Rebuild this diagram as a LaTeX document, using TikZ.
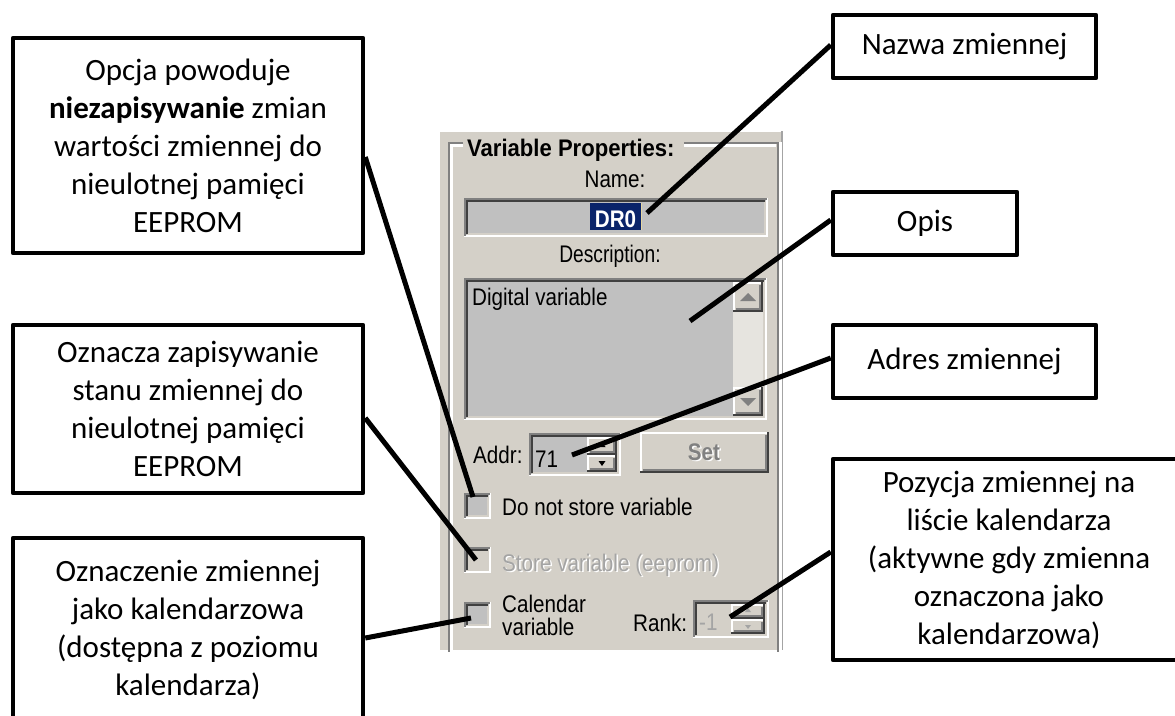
\documentclass[tikz,border=0pt]{standalone}
\usepackage{fontspec}
\usepackage{graphicx}
\setmainfont{Carlito}
\newfontfamily\uifont{Liberation Sans}
\usetikzlibrary{calc}

\definecolor{uiface}{HTML}{D4D0C8}
\definecolor{uifield}{HTML}{C0C0C0}
\definecolor{uishade}{HTML}{808080}
\definecolor{uidark}{HTML}{404040}
\definecolor{uisel}{HTML}{0A246A}
\definecolor{uigray}{HTML}{A4A4A4}
\definecolor{uitrack}{HTML}{E6E4DF}

% sunken 3D frame: x1 y1 x2 y2 fill
\newcommand\sunkenframe[5]{%
  \fill[#5] (#1,#2) rectangle (#3,#4);
  \draw[line width=2pt, white] (#1,#4-1) -- (#3-1,#4-1) -- (#3-1,#2);
  \draw[line width=2pt, uishade] (#1+1,#4-1) -- (#1+1,#2+1) -- (#3-1,#2+1);
  \draw[line width=2pt, uiface] (#1+3,#4-3) -- (#3-3,#4-3) -- (#3-3,#2+3);
  \draw[line width=2pt, uidark] (#1+3,#4-3) -- (#1+3,#2+3) -- (#3-3,#2+3);
}
% raised 3D button: x1 y1 x2 y2
\newcommand\raisedframe[4]{%
  \fill[uiface] (#1,#2) rectangle (#3,#4);
  \draw[line width=2pt, uidark] (#1,#4-1) -- (#3-1,#4-1) -- (#3-1,#2);
  \draw[line width=2pt, white] (#1+1,#4-2) -- (#1+1,#2+1) -- (#3-2,#2+1);
  \draw[line width=2pt, uishade] (#1+3,#4-3) -- (#3-3,#4-3) -- (#3-3,#2+3);
}
% narrow dialog lettering
\newcommand\narrowui[1]{\scalebox{0.86}[1]{#1}}

\tikzset{
  callout/.style={draw=black, line width=4.5pt, line join=round, fill=white,
    inner sep=0pt, align=center, font=\fontsize{31}{38}\selectfont},
  leader/.style={line width=5pt, black},
  uitext/.style={font=\uifont\fontsize{24}{26}\selectfont, inner sep=0pt, text=black},
  uibold/.style={font=\uifont\bfseries\fontsize{24}{26}\selectfont, inner sep=0pt, text=black},
}

\begin{document}
\begin{tikzpicture}[x=1pt,y=-1pt]
\useasboundingbox (0,0) rectangle (1175,715);
\fill[white] (0,0) rectangle (1175,715);

% ---------- dialog panel ----------
\fill[uiface] (440,130) rectangle (783,650);
\draw[line width=1.5pt, white] (440,131) -- (783,131);
\draw[line width=1.5pt, uigray] (782,131) -- (782,650);

% etched group frame
\draw[uishade, line width=2.5pt] (463,143) -- (449,143) -- (449,652);
\draw[white, line width=2.5pt] (463,145.5) -- (451.5,145.5) -- (451.5,652);
\draw[uishade, line width=2.5pt] (684,143) -- (778,143) -- (778,652);
\draw[white, line width=2.5pt] (684,145.5) -- (775.5,145.5);
\draw[white, line width=2.5pt] (780.5,141.8) -- (780.5,652);
\node[uibold, anchor=base west] (title) at (467,156) {\scalebox{0.92}[1]{Variable Properties:}};

% name
\node[uitext, anchor=base] (namelbl) at (615,187) {\narrowui{Name:}};
\sunkenframe{464}{198}{768}{237}{uifield}
\fill[uisel] (590,203) rectangle (641,230);
\node[uibold, anchor=base, text=white] (nameval) at (615.5,227) {\narrowui{DR0}};
\draw[line width=1.5pt, color={rgb,255:red,230;green,215;blue,160}] (641.5,203) -- (641.5,230);

% description
\node[uitext, anchor=base] (desclbl) at (610,262) {\scalebox{0.8}[1]{Description:}};
\sunkenframe{464}{278}{767}{420}{uifield}
\fill[uitrack] (733,282) rectangle (763,416);
\raisedframe{733}{282}{763}{312}
\fill[uishade] (748,293) -- (740,301) -- (756,301) -- cycle;
\raisedframe{733}{387}{763}{416}
\fill[uishade] (748,406) -- (740,398) -- (756,398) -- cycle;
\node[uitext, anchor=base west] (descval) at (472,305) {\narrowui{Digital variable}};

% address
\node[uitext, anchor=base west] (addrlbl) at (473,463) {\narrowui{Addr:}};
\sunkenframe{529}{433}{621}{476}{uifield}
\node[uitext, anchor=base west] (addrval) at (535,467) {\narrowui{71}};
\raisedframe{587}{437}{617}{455}
\fill[black] (602,442) -- (598.5,447) -- (605.5,447) -- cycle;
\raisedframe{587}{455}{617}{472}
\fill[black] (602,466) -- (598.5,461) -- (605.5,461) -- cycle;
\raisedframe{640}{432}{769}{473}
\node[uibold, anchor=base, text=white] (setshadow) at (705.5,461.5) {\narrowui{Set}};
\node[uibold, anchor=base, text=uishade] (setlbl) at (704,460) {\narrowui{Set}};

% check boxes
\sunkenframe{464}{493}{491}{519}{uifield}
\node[uitext, anchor=base west] (dnslbl) at (502,515) {\narrowui{Do not store variable}};
\sunkenframe{464}{547}{491}{573}{uiface}
\node[uitext, anchor=base west, text=white] (stshadow) at (503.5,572.5) {\narrowui{Store variable (eeprom)}};
\node[uitext, anchor=base west, text=uigray] (stlbl) at (502,571) {\narrowui{Store variable (eeprom)}};
\sunkenframe{464}{602}{491}{628}{uifield}
\node[uitext, anchor=base west] (callbl) at (502,612) {\narrowui{Calendar}};
\node[uitext, anchor=base west] (callbl2) at (502,635) {\narrowui{variable}};

% rank
\node[uitext, anchor=base west] (ranklbl) at (633,631) {\narrowui{Rank:}};
\sunkenframe{693}{600}{769}{638}{uiface}
\node[uitext, anchor=base west, text=uigray] (rankval) at (699,630) {\narrowui{-1}};
\raisedframe{731}{604}{765}{619}
\fill[uigray] (748,608) -- (745,612) -- (751,612) -- cycle;
\raisedframe{731}{619}{765}{634}
\fill[uigray] (748,629) -- (745,625) -- (751,625) -- cycle;

% ---------- pointed spots ----------
\coordinate (pDoNot) at (473,497);
\coordinate (pStore) at (476,560);
\coordinate (pCal) at (471,618);
\coordinate (pName) at (647,213);
\coordinate (pDesc) at (690,321);
\coordinate (pAddr) at (572,455);
\coordinate (pRank) at (730,617);

% ---------- callouts ----------
\node[callout, minimum width=350pt, minimum height=215pt] (boxA) at (188,145.5)
  {Opcja powoduje\\\textbf{niezapisywanie} zmian\\wartości zmiennej do\\nieulotnej pamięci\\EEPROM};
\node[callout, minimum width=350pt, minimum height=168pt] (boxB) at (188,409)
  {Oznacza zapisywanie\\stanu zmiennej do\\nieulotnej pamięci\\EEPROM};
\node[callout, minimum width=350pt, minimum height=183pt] (boxC) at (188,629.5)
  {Oznaczenie zmiennej\\jako kalendarzowa\\(dostępna z poziomu\\kalendarza)};
\node[callout, minimum width=263pt, minimum height=63pt] (boxD) at (964.5,46.5)
  {Nazwa zmiennej};
\node[callout, minimum width=184pt, minimum height=63pt] (boxE) at (925,223.5)
  {Opis};
\node[callout, minimum width=263pt, minimum height=73pt] (boxF) at (964.5,361.5)
  {Adres zmiennej};
\node[callout, minimum width=352pt, minimum height=201pt] (boxG) at (1009,559.5)
  {Pozycja zmiennej na\\liście kalendarza\\(aktywne gdy zmienna\\oznaczona jako\\kalendarzowa)};

% ---------- leaders ----------
\draw[leader] ([yshift=-11.5pt]boxA.east) -- (pDoNot);
\draw[leader] ([yshift=-9pt]boxB.east) -- (pStore);
\draw[leader] ([yshift=-8.5pt]boxC.east) -- (pCal);
\draw[leader] ([yshift=1.5pt]boxD.west) -- (pName);
\draw[leader] ([yshift=3.5pt]boxE.west) -- (pDesc);
\draw[leader] ([yshift=3.5pt]boxF.west) -- (pAddr);
\draw[leader] ([yshift=7.5pt]boxG.west) -- (pRank);
\end{tikzpicture}
\end{document}
